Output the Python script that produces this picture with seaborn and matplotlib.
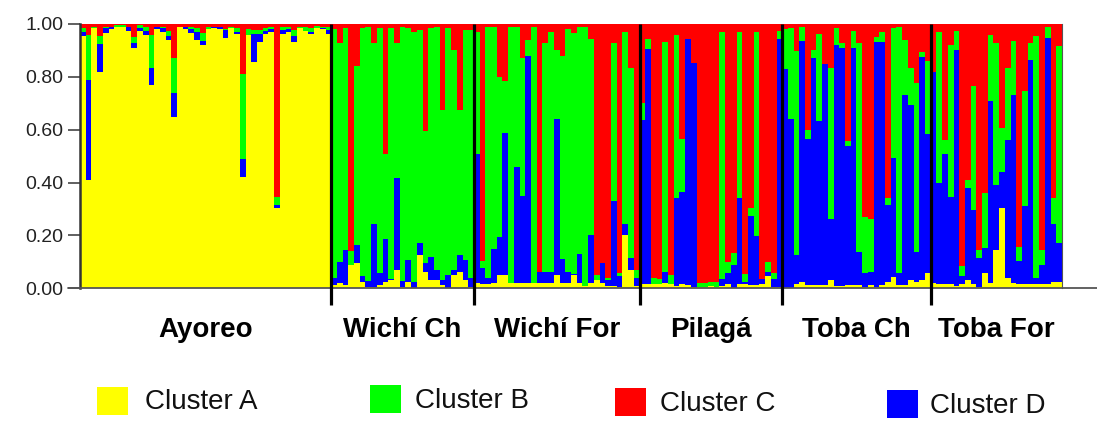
import numpy as np
import pandas as pd
import matplotlib
matplotlib.use("Agg")
import matplotlib.pyplot as plt
from matplotlib.patches import Rectangle
import seaborn as sns

# ---------------- data (membership fractions per individual) ----------------
groups = ["Ayoreo", "Wichí Ch", "Wichí For", "Pilagá", "Toba Ch", "Toba For"]
clusters = ["Cluster A", "Cluster B", "Cluster C", "Cluster D"]
cluster_colors = ["#FFFF00", "#00FF00", "#FF0000", "#0000FF"]

ayoreo_A = [.955, .41, .985, .82, .965, .98, .99, .99, .975, .91, .975, .96, .77, .98, .97,
            .94, .65, .99, .98, .965, .94, .92, .98, .985, .98, .946, .985, .962, .42, .96,
            .855, .933, .962, .97, .303, .962, .97, .933, .985, .975, .962, .985, .98, .962]
ayoreo_B = [.013, .17, .005, .03, .005, 0, .005, .005, 0, .02, .01, .015, .125, 0, .005,
            .02, .13, 0, 0, .01, .015, .03, .01, 0, 0, .004, .005, .015, .32, .02,
            .015, .015, .01, .01, .028, .013, .008, .025, .005, .013, .015, .008, .005, .01]
ayoreo_C = [.017, .04, .01, .045, .01, .01, .005, .005, .012, .05, .005, .01, .04, .01, .01,
            .027, .13, .01, .01, .01, .015, .035, .01, .01, .01, .02, .01, .017, .19, .02,
            .023, .022, .016, .01, .656, .01, .01, .022, .01, .012, .014, .007, .01, .013]
ayoreo_D = [.015, .38, 0, .105, .02, .01, 0, 0, .013, .02, .01, .015, .065, .01, .015,
            .013, .09, 0, .01, .015, .03, .015, 0, .005, .01, .03, 0, .006, .07, 0,
            .107, .03, .012, .01, .013, .015, .012, .02, 0, 0, .009, 0, .005, .015]

wichi_ch_A = [.012, .019, .013, .09, .095, .025, .006, .006, .012, .025, .03, .07, .006,
              .025, 0, .126, .063, .032, .032, .013, 0, .05, .063, .032, .006]
wichi_ch_B = [.94, .826, .84, .05, .675, .94, .964, .685, .927, .324, .95, .51, .964,
              .876, .945, .807, .5, .864, .92, .643, .933, .838, .549, .87, .94]
wichi_ch_C = [.02, .073, .016, .86, .16, .016, .01, .073, .016, .49, .016, .073, .01,
              .016, .03, .023, .405, .016, .01, .325, .016, .098, .325, .022, .022]
wichi_ch_D = [.025, .082, .13, 0, .069, .02, .02, .236, .044, .16, .005, .347, .02,
              .08, .025, .044, .032, .088, .038, .019, .05, .02, .063, .076, .032]

wichi_for_A = [.02, .015, .015, .02, .05, .05, .02, .02, .02, .02, .02, .02, .02, .02, .05,
               .02, .02, .05, .02, .01, .02, .03, .02, .01, .01, .006, .2, .07, .01]
wichi_for_B = [.46, .03, .95, .84, .605, .2, .97, .53, .52, .06, .97, 0, .87, .91, .26,
               .77, .92, .91, .86, .98, .74, .02, 0, .01, .6, .01, .72, .72, .03]
wichi_for_C = [.03, .895, .01, .01, .2, .214, .01, .01, .13, .06, .01, .94, .07, .03, .1,
               .12, .02, .035, .01, .01, .055, .95, .9, .96, .07, .94, .03, .165, .93]
wichi_for_D = [.49, .06, .025, .13, .145, .536, 0, .44, .33, .86, 0, .04, .04, .04, .59,
               .09, .04, .005, .11, 0, .18, 0, .075, .02, .32, .04, .04, .045, .03]

pilaga_A = [.015, .015, .015, .015, .02, .015, .01, .015, .012, .006, .005, .005, .01,
            .005, .01, .018, 0, .015, .015, .013, .013, .015, .048, .006, .006]
pilaga_B = [.063, .035, .025, .02, .855, .035, .62, .2, 0, 0, .015, .015, .015,
            .02, .93, .044, .045, .63, .028, .03, .776, 0, .035, .02, .03]
pilaga_C = [.297, .055, .96, .965, .067, .95, .04, .435, .055, .147, .98, .98, .975,
            .975, .03, .9, .865, .03, .945, .7, .03, .965, .9, .944, .025]
pilaga_D = [.62, .86, 0, 0, .04, 0, .33, .35, .93, .845, 0, 0, 0,
            0, .025, .038, .09, .325, .01, .26, .187, .02, .015, .03, .94]

toba_ch_A = [0, 0, .015, .025, .012, .012, .012, .012, .03, .01, .01, .013, .013,
             .013, .006, .013, .006, .013, .025, .044, .013, .013, .032, .025, .032, .057]
toba_ch_B = [.15, .345, .77, .055, .035, .03, .33, 0, .56, .063, .02, .02, .067,
             .79, .214, .2, .019, .038, .025, .49, .93, .21, .14, .637, .02, .275]
toba_ch_C = [.02, .015, .1, .01, .4, .1, .038, .153, .165, .016, .07, .44, .025,
             .073, .73, .735, .048, .03, .66, .016, .01, .06, .165, .225, .105, .14]
toba_ch_D = [.83, .64, .11, .9, .555, .858, .62, .835, .23, .91, .9, .525, .895,
             .124, .05, .05, .927, .92, .29, .448, .044, .72, .655, .113, .845, .525]

toba_for_A = [.02, .015, .015, .015, .01, .015, .031, .015, .005, .057, .02, .145,
              .303, .038, .02, .015, .015, .015, .015, .015, .015, .025, .025]
toba_for_B = [0, .57, .05, .575, .07, .038, .03, .467, .031, .208, .25, .54,
              .166, .273, .202, .05, .435, .063, .915, .055, .04, .095, .745]
toba_for_C = [.18, .032, .44, .08, .027, .917, .59, .236, .855, .64, .04, .07,
              .394, .167, .066, .845, .255, .072, .047, .855, .013, .66, .085]
toba_for_D = [.8, .383, .495, .33, .893, .03, .349, .282, .109, .095, .69, .245,
              .137, .522, .712, .09, .295, .85, .023, .075, .932, .22, .145]

group_A = [ayoreo_A, wichi_ch_A, wichi_for_A, pilaga_A, toba_ch_A, toba_for_A]
group_B = [ayoreo_B, wichi_ch_B, wichi_for_B, pilaga_B, toba_ch_B, toba_for_B]
group_C = [ayoreo_C, wichi_ch_C, wichi_for_C, pilaga_C, toba_ch_C, toba_for_C]
group_D = [ayoreo_D, wichi_ch_D, wichi_for_D, pilaga_D, toba_ch_D, toba_for_D]

# ---------------- table ----------------
rows = []
for g, a, b, c, d in zip(groups, group_A, group_B, group_C, group_D):
    for va, vb, vc, vd in zip(a, b, c, d):
        rows.append((g, va, vb, vc, vd))
df = pd.DataFrame(rows, columns=["group", "A", "B", "C", "D"])
tot = df[["A", "B", "C", "D"]].sum(axis=1)
for k in "ABCD":
    df[k] = df[k] / tot
df["ind"] = np.arange(len(df))
# stacking bottom -> top : A (yellow), D (blue), B (green), C (red)
df["top_A"] = df["A"]
df["top_D"] = df["A"] + df["D"]
df["top_B"] = df["A"] + df["D"] + df["B"]
df["top_C"] = 1.0
N = len(df)
sizes = [len(a) for a in group_A]

# ---------------- figure ----------------
sns.set_theme(style="white")
plt.rcParams["font.family"] = ["Liberation Sans", "DejaVu Sans"]

W, H = 1097, 426
fig = plt.figure(figsize=(W / 100, H / 100), dpi=100)
ax = fig.add_axes([80 / W, (H - 288.3) / H, 982 / W, 264.3 / H])

layers = [("top_C", cluster_colors[2]), ("top_B", cluster_colors[1]),
          ("top_D", cluster_colors[3]), ("top_A", cluster_colors[0])]
for col, colr in layers:
    sns.barplot(data=df, x="ind", y=col, color=colr, saturation=1, width=1.0,
                errorbar=None, linewidth=0, ax=ax)
for p in ax.patches:
    p.set_antialiased(False)

ax.set_xlim(-0.5, N - 0.5)
ax.set_ylim(0, 1.0)
ax.set_xlabel("")
ax.set_ylabel("")
ax.set_xticks([])
ax.set_yticks(np.arange(0, 1.01, 0.2))
ax.set_yticklabels([f"{v:.2f}" for v in np.arange(0, 1.01, 0.2)])
ax.tick_params(axis="y", left=True, length=9, width=1.2, color="#444444",
               labelsize=14, labelcolor="#222222", pad=3)

for s in ["top", "bottom"]:
    ax.spines[s].set_visible(False)
ax.spines["left"].set_color("#333333")
ax.spines["left"].set_linewidth(1.8)
ax.spines["right"].set_color("#555555")
ax.spines["right"].set_linewidth(0.8)

# baseline extending past the plot
ax.plot([-0.012, 1.036], [0, 0], transform=ax.transAxes, color="#555555",
        lw=1.3, clip_on=False, zorder=5)

# group separators
bounds = np.cumsum(sizes)[:-1] - 0.5
ax.vlines(bounds, -0.065, 1.0, color="black", lw=2.3, clip_on=False, zorder=6)

# group labels
starts = np.concatenate([[0], np.cumsum(sizes)[:-1]]) - 0.5
ends = np.cumsum(sizes) - 0.5
for g, s0, e0 in zip(groups, starts, ends):
    ax.text((s0 + e0) / 2, -0.158, g, ha="center", va="center",
            fontsize=20, fontweight="bold", color="black", clip_on=False)

# legend (manual)
leg_sq = [(97, 387), (370, 385), (615, 388), (887, 390)]
leg_tx = [(145, 402), (415, 401), (660, 404), (930, 406)]
for (x0, y0), (tx, ty), lab, colr in zip(leg_sq, leg_tx, clusters, cluster_colors):
    fig.add_artist(Rectangle((x0 / W, 1 - (y0 + 28) / H), 31 / W, 28 / H,
                             transform=fig.transFigure, facecolor=colr,
                             edgecolor="none"))
    fig.text(tx / W, 1 - ty / H, lab, ha="left", va="center", fontsize=20,
             color="#111111")

fig.savefig("out.png", dpi=100)
